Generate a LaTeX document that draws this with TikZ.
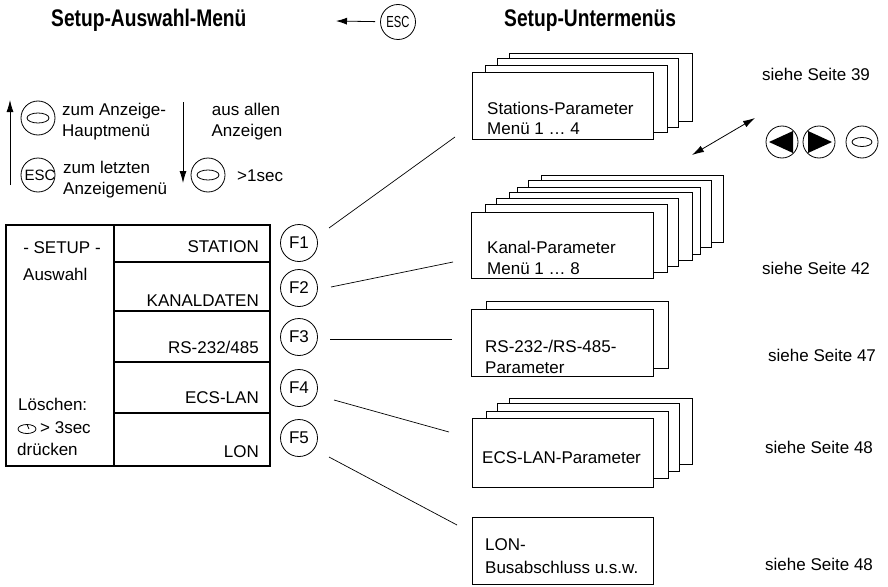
\documentclass[tikz,border=0pt]{standalone}
\usepackage{fontspec}
\usepackage{graphicx}
\setmainfont{Liberation Sans}
\usetikzlibrary{arrows.meta}
\newcommand{\condtxt}[1]{\scalebox{0.8}[1]{#1}}
\begin{document}
\begin{tikzpicture}[x=1pt,y=-1pt,
  txt/.style={inner sep=0pt,font=\fontsize{17}{20}\selectfont},
  lt/.style={txt,anchor=base west},
  rt/.style={txt,anchor=base east},
  ct/.style={txt,anchor=base},
  ttl/.style={inner sep=0pt,anchor=base west,font=\fontsize{24}{28}\selectfont\bfseries},
  box/.style={draw,line width=0.9pt,fill=white},
  front/.style={box,anchor=north west,inner sep=0pt},
  fkey/.style={draw,circle,line width=0.8pt,minimum size=37pt,inner sep=0pt,font=\fontsize{17}{20}\selectfont},
  btn/.style={draw,circle,line width=0.8pt,inner sep=0pt},
  conn/.style={line width=0.7pt},
  tip/.style={-{Latex[length=12pt,width=7pt]},line width=0.8pt},
  thick/.style={line width=2.5pt}
]
\useasboundingbox (0,0) rectangle (888,586);

% ---------- titles ----------
\node[ttl] (t1) at (51,27) {\condtxt{Setup-Auswahl-Menü}};
\node[ttl] (t2) at (504,27) {\condtxt{Setup-Untermenüs}};
\node[btn,minimum size=35pt,font=\fontsize{16}{18}\selectfont] (esc) at (398,22) {\scalebox{0.7}[1]{ESC}};
\coordinate (escarr) at (336,21);
\draw[-{Latex[length=11pt,width=7pt]},line width=0.8pt,shorten <=5pt] (esc) -- (escarr);

% ---------- left intro ----------
\coordinate (ua) at (10,185);
\coordinate (ub) at (10,100);
\draw[tip] (ua) -- (ub);
\node[btn,minimum size=34pt] (ov1) at (38,118) {};
\draw[line width=0.8pt] (ov1.center) ellipse (11 and 5);
\node[lt] (z1) at (62,115) {zum Anzeige-};
\node[lt] (z2) at (62,136) {Hauptmenü};
\node[btn,minimum size=34pt] (esc2) at (38,175) {};
\node[txt,font=\fontsize{15}{18}\selectfont] (esc2t) at (40,175) {ESC};
\node[lt] (z3) at (63,173) {zum letzten};
\node[lt] (z4) at (63,194) {Anzeigemenü};

\coordinate (da1) at (183,102);
\coordinate (da2) at (183,183);
\draw[tip] (da1) -- (da2);
\node[ct] (a1) at (246,115) {aus allen};
\node[ct] (a2) at (247,136) {Anzeigen};
\node[btn,minimum size=34pt] (ov2) at (208,175) {};
\draw[line width=0.8pt] (ov2.center) ellipse (11 and 5);
\node[lt] (sec) at (237,181) {>1sec};

% ---------- setup table ----------
\draw[thick] (6,225) rectangle (270,466);
\draw[thick] (114,225) -- (114,466);
\draw[thick] (114,262) -- (270,262);
\draw[thick] (114,311) -- (270,311);
\draw[thick] (114,362) -- (270,362);
\draw[thick] (114,413) -- (270,413);
\node[ct] (setup) at (62,253) {- SETUP -};
\node[lt] (ausw) at (23,280) {Auswahl};
\node[lt] (loe) at (18,410) {Löschen:};
\draw[line width=0.8pt] (27,429) ellipse (9 and 4.5);
\draw[line width=0.8pt] (27,424.5) -- (29,429);
\node[lt] (sec3) at (40,433) {> 3sec};
\node[lt] (dru) at (17,455) {drücken};
\node[rt] (r1) at (259,252) {STATION};
\node[rt] (r2) at (259,306) {KANALDATEN};
\node[rt] (r3) at (259,353) {RS-232/485};
\node[rt] (r4) at (259,403) {ECS-LAN};
\node[rt] (r5) at (259,457) {LON};

% ---------- function keys ----------
\node[fkey] (F1) at (299,243) {F1};
\node[fkey] (F2) at (299,288) {F2};
\node[fkey] (F3) at (299,337) {F3};
\node[fkey] (F4) at (299,388) {F4};
\node[fkey] (F5) at (299,438) {F5};

% ---------- stations stack ----------
\draw[box] (509,53) rectangle (692,121);
\draw[box] (497,58) rectangle (678,127);
\draw[box] (485,65) rectangle (667,132);
\node[front,minimum width=181pt,minimum height=67pt] (st) at (472,72) {};
\node[lt] (st1) at (487,114) {Stations-Parameter};
\node[lt] (st2) at (487,134) {Menü 1 … 4};

% ---------- kanal stack ----------
\draw[box] (541,175) rectangle (723,242);
\draw[box] (528,180) rectangle (711,247);
\draw[box] (517,187) rectangle (700,254);
\draw[box] (509,192) rectangle (692,260);
\draw[box] (496,198) rectangle (678,266);
\draw[box] (485,204) rectangle (667,272);
\node[front,minimum width=182pt,minimum height=66pt] (ka) at (471,212) {};
\node[lt] (ka1) at (487,253) {Kanal-Parameter};
\node[lt] (ka2) at (487,274) {Menü 1 … 8};

% ---------- RS stack ----------
\draw[box] (486,301) rectangle (668,368);
\node[front,minimum width=182pt,minimum height=67pt] (rs) at (471,309) {};
\node[lt] (rs1) at (485,352) {RS-232-/RS-485-};
\node[lt] (rs2) at (485,373) {Parameter};

% ---------- ECS stack ----------
\draw[box] (509,398) rectangle (692,464);
\draw[box] (497,403) rectangle (679,471);
\draw[box] (486,411) rectangle (668,478);
\node[front,minimum width=181pt,minimum height=69pt] (ecs) at (472,418) {};
\node[lt] (ecs1) at (482,463) {ECS-LAN-Parameter};

% ---------- LON ----------
\node[front,minimum width=181pt,minimum height=67pt] (lon) at (472,517) {};
\node[lt] (lon1) at (485,550) {LON-};
\node[lt] (lon2) at (485,573) {Busabschluss u.s.w.};

% ---------- connectors ----------
\coordinate (c1a) at (329,228); \coordinate (c1b) at (455,137);
\coordinate (c2a) at (331,287); \coordinate (c2b) at (453,262);
\coordinate (c3a) at (330,339); \coordinate (c3b) at (452,339);
\coordinate (c4a) at (334,400); \coordinate (c4b) at (449,432);
\coordinate (c5a) at (329,457); \coordinate (c5b) at (457,525);
\draw[conn] (c1a) -- (c1b);
\draw[conn] (c2a) -- (c2b);
\draw[conn] (c3a) -- (c3b);
\draw[conn] (c4a) -- (c4b);
\draw[conn] (c5a) -- (c5b);

% ---------- page refs ----------
\node[lt] (p39) at (762,81) {siehe Seite 39};
\node[lt] (p42) at (762,274) {siehe Seite 42};
\node[lt] (p47) at (768,361) {siehe Seite 47};
\node[lt] (p48a) at (765,453) {siehe Seite 48};
\node[lt] (p48b) at (765,570) {siehe Seite 48};

% ---------- navigation ----------
\coordinate (na) at (692,155);
\coordinate (nb) at (755,118);
\draw[{Latex[length=12pt,width=7pt]}-{Latex[length=12pt,width=7pt]},line width=0.8pt] (na) -- (nb);
\node[btn,minimum size=32pt] (bl) at (782,142) {};
\fill (769,142) -- (793,131) -- (793,153) -- cycle;
\node[btn,minimum size=32pt] (br) at (819,142) {};
\fill (832,142) -- (808,131) -- (808,153) -- cycle;
\node[btn,minimum size=32pt] (bo) at (862,142) {};
\draw[line width=0.8pt] (bo.center) ellipse (10 and 4.5);
\end{tikzpicture}
\end{document}
